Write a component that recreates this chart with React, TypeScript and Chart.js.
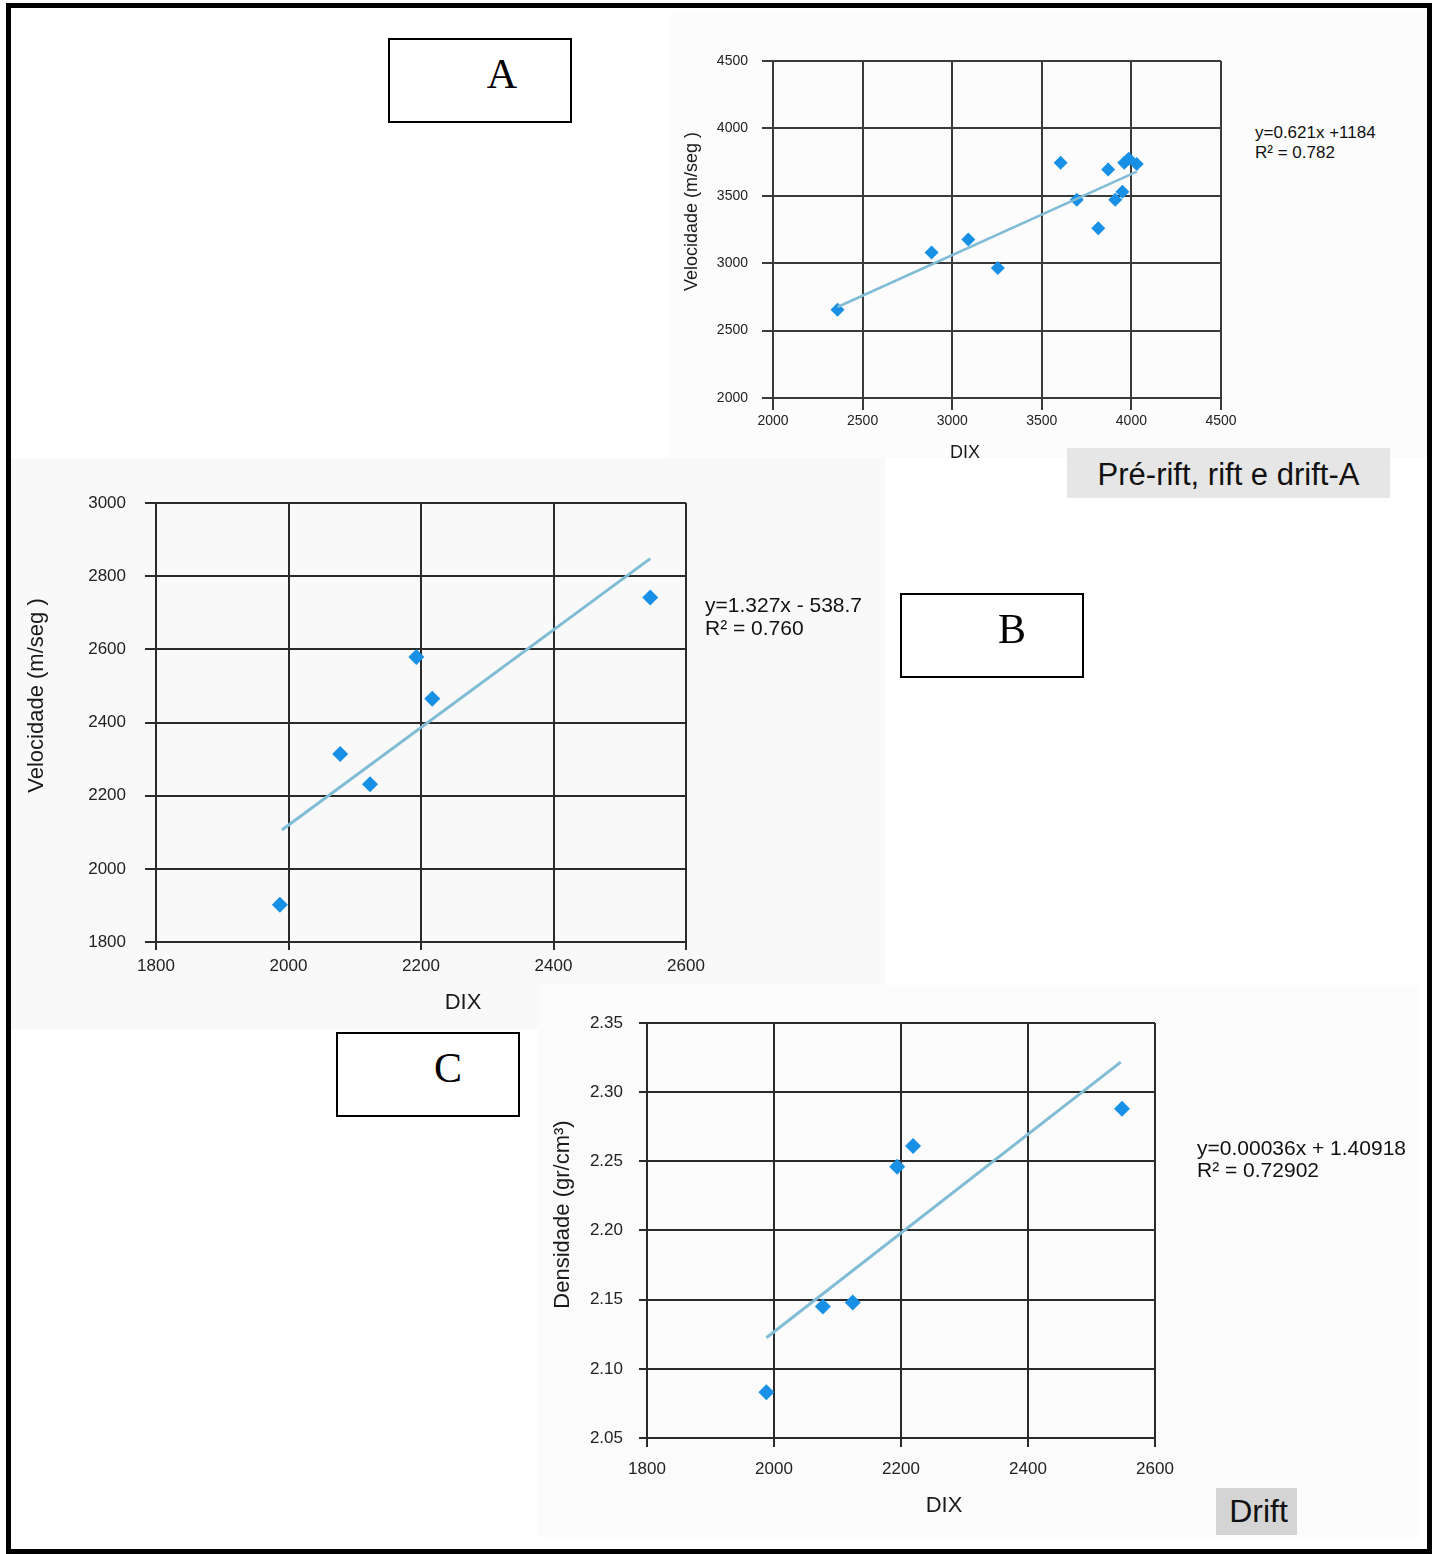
import React, { useEffect, useRef } from "react";
import { Chart, registerables } from "chart.js";

Chart.register(...registerables);

const SANS = '"Liberation Sans", Arial, Helvetica, sans-serif';
const SERIF = '"Liberation Serif", "Times New Roman", serif';

// ---------- Chart A (Pré-rift, rift e drift-A) ----------
const dixA = [2360, 2885, 3090, 3255, 3605, 3695, 3815, 3870, 3910, 3950, 3960, 3985, 4030];
const velA = [2655, 3080, 3175, 2965, 3745, 3470, 3260, 3695, 3470, 3530, 3745, 3775, 3735];
const trendDixA = [2360, 4030];
const trendVelA = [2675, 3680];
const xTicksA = [2000, 2500, 3000, 3500, 4000, 4500];
const yTicksA = [2000, 2500, 3000, 3500, 4000, 4500];

// ---------- Chart B (Drift, velocidade) ----------
const dixB = [1987, 2078, 2123, 2193, 2217, 2546];
const velB = [1902, 2314, 2231, 2579, 2465, 2742];
const trendDixB = [1990, 2546];
const trendVelB = [2106, 2848];
const xTicksB = [1800, 2000, 2200, 2400, 2600];
const yTicksB = [1800, 2000, 2200, 2400, 2600, 2800, 3000];

// ---------- Chart C (Drift, densidade) ----------
const dixC = [1988, 2077, 2124, 2194, 2219, 2548];
const denC = [2.083, 2.145, 2.148, 2.246, 2.261, 2.288];
const trendDixC = [1988, 2546];
const trendDenC = [2.1225, 2.3217];
const xTicksC = [1800, 2000, 2200, 2400, 2600];
const yTicksC = [2.05, 2.1, 2.15, 2.2, 2.25, 2.3, 2.35];

const POINT_COLOR = "#1790e6";
const TREND_COLOR = "#80bcd5";
const TICK_COLOR = "#222";
const TITLE_COLOR = "#1a1a1a";

// shifts an axis title (drawn by the scale itself) by a fixed offset
const shiftTitles = {
  id: "shiftTitles",
  afterLayout(chart: any, _args: any, opts: any) {
    const shifts: Record<string, [number, number]> = {
      x: [opts.xdx || 0, 0],
      y: [0, opts.ydy || 0],
    };
    for (const id of ["x", "y"]) {
      const s = chart.scales[id];
      if (!s || s.__shifted) continue;
      const orig = s.drawTitle;
      const [dx, dy] = shifts[id];
      s.drawTitle = function () {
        const ctx = this.ctx;
        ctx.save();
        ctx.translate(dx, dy);
        orig.call(this);
        ctx.restore();
      };
      s.__shifted = true;
    }
  },
};

type Props = {
  left: number;
  top: number;
  width: number;
  height: number;
  pad: { left: number; top: number; right: number; bottom: number };
  yWidth: number;
  xHeight: number;
  xs: number[];
  ys: number[];
  tx: number[];
  ty: number[];
  xTicks: number[];
  yTicks: number[];
  yFmt: (v: number) => string;
  yTitle: string;
  tickSize: number;
  titleSize: number;
  xTickLen: number;
  xPad: number;
  yTickLen: number;
  yPad: number;
  gridColor: string;
  gridWidth: number;
  radius: number;
  trendWidth: number;
  xdx: number;
  ydy: number;
};

function ScatterChart(p: Props) {
  const ref = useRef<HTMLCanvasElement | null>(null);
  useEffect(() => {
    if (!ref.current) return;
    const xMin = p.xTicks[0];
    const xMax = p.xTicks[p.xTicks.length - 1];
    const yMin = p.yTicks[0];
    const yMax = p.yTicks[p.yTicks.length - 1];
    const chart = new Chart(ref.current, {
      type: "scatter",
      data: {
        datasets: [
          {
            data: p.tx.map((x, i) => ({ x, y: p.ty[i] })),
            showLine: true,
            borderColor: TREND_COLOR,
            borderWidth: p.trendWidth,
            pointRadius: 0,
            fill: false,
            order: 0,
          } as any,
          {
            data: p.xs.map((x, i) => ({ x, y: p.ys[i] })),
            pointStyle: "rectRot",
            pointRadius: p.radius,
            backgroundColor: POINT_COLOR,
            borderColor: POINT_COLOR,
            borderWidth: 0,
            order: 1,
          } as any,
        ],
      },
      options: {
        responsive: false,
        animation: false,
        devicePixelRatio: 1,
        layout: { padding: p.pad },
        plugins: {
          legend: { display: false },
          tooltip: { enabled: false },
          shiftTitles: { xdx: p.xdx, ydy: p.ydy },
        } as any,
        scales: {
          x: {
            type: "linear",
            position: "bottom",
            min: xMin,
            max: xMax,
            afterBuildTicks: (s: any) => {
              s.ticks = p.xTicks.map((v) => ({ value: v }));
            },
            afterFit: (s: any) => {
              s.height = p.xHeight;
            },
            grid: {
              color: p.gridColor,
              lineWidth: p.gridWidth,
              tickLength: p.xTickLen,
              drawTicks: true,
            },
            border: { display: true, color: p.gridColor, width: p.gridWidth },
            ticks: {
              padding: p.xPad,
              color: TICK_COLOR,
              font: { family: SANS, size: p.tickSize },
              autoSkip: false,
              maxRotation: 0,
              callback: (v: any) => String(v),
            },
            title: {
              display: true,
              text: "DIX",
              color: TITLE_COLOR,
              font: { family: SANS, size: p.titleSize },
              padding: 0,
            },
          },
          y: {
            type: "linear",
            position: "left",
            min: yMin,
            max: yMax,
            afterBuildTicks: (s: any) => {
              s.ticks = p.yTicks.map((v) => ({ value: v }));
            },
            afterFit: (s: any) => {
              s.width = p.yWidth;
            },
            grid: {
              color: p.gridColor,
              lineWidth: p.gridWidth,
              tickLength: p.yTickLen,
              drawTicks: true,
            },
            border: { display: true, color: p.gridColor, width: p.gridWidth },
            ticks: {
              padding: p.yPad,
              color: TICK_COLOR,
              font: { family: SANS, size: p.tickSize },
              autoSkip: false,
              callback: (v: any) => p.yFmt(Number(v)),
            },
            title: {
              display: true,
              text: p.yTitle,
              color: TITLE_COLOR,
              font: { family: SANS, size: p.titleSize },
              padding: 0,
            },
          },
        },
      } as any,
      plugins: [shiftTitles as any],
    });
    return () => chart.destroy();
  }, []);
  return (
    <canvas
      ref={ref}
      width={p.width}
      height={p.height}
      style={{
        position: "absolute",
        left: p.left,
        top: p.top,
        width: p.width,
        height: p.height,
      }}
    />
  );
}

function LetterBox({ left, top, letter, cx }: { left: number; top: number; letter: string; cx: number }) {
  return (
    <div
      style={{
        position: "absolute",
        left,
        top,
        width: 184,
        height: 85,
        border: "2px solid #000",
        boxSizing: "border-box",
        background: "#fff",
      }}
    >
      <span
        style={{
          position: "absolute",
          left: cx - 30,
          top: 13,
          width: 60,
          textAlign: "center",
          fontFamily: SERIF,
          fontSize: 42,
          lineHeight: "42px",
          color: "#000",
        }}
      >
        {letter}
      </span>
    </div>
  );
}

function Equation({ left, top, size, lh, lines }: { left: number; top: number; size: number; lh: number; lines: string[] }) {
  return (
    <div
      style={{
        position: "absolute",
        left,
        top,
        fontFamily: SANS,
        fontSize: size,
        lineHeight: `${lh}px`,
        color: "#111",
        whiteSpace: "nowrap",
      }}
    >
      {lines.map((l, i) => (
        <div key={i}>{l}</div>
      ))}
    </div>
  );
}

export default function App() {
  return (
    <div
      style={{
        position: "absolute",
        left: 0,
        top: 0,
        width: 1438,
        height: 1554,
        background: "#fff",
        overflow: "hidden",
        fontFamily: SANS,
      }}
    >
      {/* faint image panels */}
      <div style={{ position: "absolute", left: 670, top: 12, width: 758, height: 446, background: "#fcfcfc" }} />
      <div style={{ position: "absolute", left: 11, top: 458, width: 874, height: 572, background: "#f9f9f9" }} />
      <div style={{ position: "absolute", left: 538, top: 985, width: 880, height: 552, background: "#fbfbfb" }} />

      <ScatterChart
        left={670}
        top={30}
        width={575}
        height={445}
        pad={{ left: 11, top: 31, right: 24, bottom: 11 }}
        yWidth={92}
        xHeight={66}
        xs={dixA}
        ys={velA}
        tx={trendDixA}
        ty={trendVelA}
        xTicks={xTicksA}
        yTicks={yTicksA}
        yFmt={(v) => String(v)}
        yTitle="Velocidade (m/seg )"
        tickSize={14}
        titleSize={18}
        xTickLen={12}
        xPad={3}
        yTickLen={11}
        yPad={14}
        gridColor="#3a3a3a"
        gridWidth={2}
        radius={7}
        trendWidth={2.5}
        xdx={-32}
        ydy={-18}
      />

      <ScatterChart
        left={10}
        top={470}
        width={720}
        height={560}
        pad={{ left: 14, top: 33, right: 44, bottom: 14 }}
        yWidth={132}
        xHeight={74}
        xs={dixB}
        ys={velB}
        tx={trendDixB}
        ty={trendVelB}
        xTicks={xTicksB}
        yTicks={yTicksB}
        yFmt={(v) => String(v)}
        yTitle="Velocidade (m/seg )"
        tickSize={17}
        titleSize={22}
        xTickLen={8}
        xPad={6}
        yTickLen={11}
        yPad={19}
        gridColor="#2a2a2a"
        gridWidth={2}
        radius={8}
        trendWidth={3}
        xdx={42}
        ydy={-27}
      />

      <ScatterChart
        left={540}
        top={990}
        width={680}
        height={550}
        pad={{ left: 10, top: 33, right: 65, bottom: 21 }}
        yWidth={97}
        xHeight={81}
        xs={dixC}
        ys={denC}
        tx={trendDixC}
        ty={trendDenC}
        xTicks={xTicksC}
        yTicks={yTicksC}
        yFmt={(v) => v.toFixed(2)}
        yTitle="Densidade (gr/cm³)"
        tickSize={17}
        titleSize={22}
        xTickLen={9}
        xPad={12}
        yTickLen={8}
        yPad={16}
        gridColor="#2a2a2a"
        gridWidth={2}
        radius={8}
        trendWidth={3}
        xdx={43}
        ydy={-16}
      />

      <Equation left={1255} top={123} size={17} lh={20} lines={["y=0.621x +1184", "R² = 0.782"]} />
      <Equation left={705} top={593} size={21} lh={23} lines={["y=1.327x - 538.7", "R² = 0.760"]} />
      <Equation left={1197} top={1137} size={21} lh={22} lines={["y=0.00036x + 1.40918", "R² = 0.72902"]} />

      <LetterBox left={388} top={38} letter="A" cx={112} />
      <LetterBox left={900} top={593} letter="B" cx={110} />
      <LetterBox left={336} top={1032} letter="C" cx={110} />

      <div
        style={{
          position: "absolute",
          left: 1067,
          top: 448,
          width: 323,
          height: 50,
          background: "#e6e6e6",
          display: "flex",
          alignItems: "center",
          justifyContent: "center",
          fontFamily: SANS,
          fontSize: 31,
          color: "#111",
          paddingTop: 3,
          boxSizing: "border-box",
        }}
      >
        Pré-rift, rift e drift-A
      </div>

      <div
        style={{
          position: "absolute",
          left: 1216,
          top: 1488,
          width: 81,
          height: 47,
          background: "#d4d4d4",
          display: "flex",
          alignItems: "center",
          justifyContent: "center",
          fontFamily: SANS,
          fontSize: 32,
          color: "#111",
          paddingLeft: 4,
          boxSizing: "border-box",
        }}
      >
        Drift
      </div>

      {/* outer frame */}
      <div
        style={{
          position: "absolute",
          left: 6,
          top: 3,
          width: 1426,
          height: 1551,
          border: "5px solid #000",
          boxSizing: "border-box",
          pointerEvents: "none",
        }}
      />
    </div>
  );
}
